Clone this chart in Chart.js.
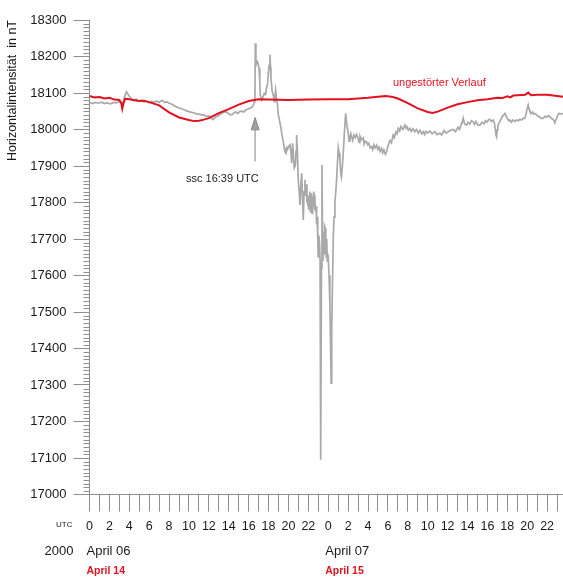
<!DOCTYPE html>
<html>
<head>
<meta charset="utf-8">
<script src="https://cdn.jsdelivr.net/npm/chart.js@4.4.1/dist/chart.umd.min.js"></script>
<style>
  html, body { margin: 0; padding: 0; background: #fff; }
  #wrap { width: 563px; height: 577px; position: relative; }
</style>
</head>
<body>
<div id="wrap"><canvas id="chart"></canvas></div>
<script>
// hours since 2000-04-06 00:00 UTC, horizontal intensity in nT
const quietHours = [0, 0.5, 1, 1.5, 2, 2.5, 3, 3.2, 3.3, 3.45, 3.6, 4, 4.5, 5, 5.5, 6, 7, 8, 9, 10, 10.5, 11, 11.5, 12, 13, 14, 15, 16, 17, 18, 20, 22, 24, 26, 27, 28, 29, 29.8, 30.5, 31, 32, 33, 34, 34.5, 35, 36, 37, 38, 39, 40, 41, 41.5, 42, 42.3, 42.6, 43, 43.8, 44.1, 44.4, 45, 46, 47, 47.6];
const quietValues = [18092, 18088, 18089, 18085, 18087, 18082, 18081, 18072, 18057, 18075, 18084, 18083, 18080, 18078, 18079, 18075, 18066, 18047, 18033, 18026, 18023, 18024, 18027, 18031, 18045, 18056, 18068, 18078, 18083, 18082, 18081, 18082, 18083, 18083, 18085, 18087, 18090, 18092, 18089, 18085, 18072, 18058, 18048, 18045, 18049, 18060, 18069, 18075, 18080, 18083, 18087, 18086, 18091, 18088, 18093, 18094, 18095, 18101, 18094, 18095, 18095, 18092, 18090];

const measuredHours = [0.00, 0.30, 0.60, 0.90, 1.20, 1.50, 1.80, 2.10, 2.40, 2.70, 3.00, 3.20, 3.30, 3.50, 3.72, 3.95, 4.17, 4.40, 4.70, 4.97, 5.25, 5.48, 5.75, 5.98, 6.25, 6.50, 6.75, 6.98, 7.29, 7.59, 7.80, 7.99, 8.25, 8.49, 8.75, 8.99, 9.25, 9.50, 9.75, 10.00, 10.25, 10.50, 10.75, 11.00, 11.25, 11.50, 11.75, 12.00, 12.20, 12.41, 12.55, 12.71, 12.91, 13.10, 13.32, 13.62, 13.80, 13.92, 14.10, 14.32, 14.50, 14.72, 14.90, 15.10, 15.30, 15.50, 15.73, 15.95, 16.15, 16.30, 16.45, 16.58, 16.63, 16.67, 16.73, 16.82, 16.90, 17.04, 17.12, 17.17, 17.31, 17.45, 17.57, 17.70, 17.81, 17.90, 17.97, 18.05, 18.14, 18.20, 18.24, 18.37, 18.47, 18.57, 18.64, 18.71, 18.80, 18.91, 18.97, 19.10, 19.25, 19.35, 19.48, 19.58, 19.65, 19.75, 19.85, 19.92, 20.05, 20.15, 20.25, 20.32, 20.42, 20.50, 20.58, 20.70, 20.76, 20.82, 20.90, 20.99, 21.08, 21.16, 21.25, 21.33, 21.41, 21.49, 21.57, 21.66, 21.71, 21.75, 21.81, 21.86, 21.90, 21.95, 21.99, 22.04, 22.08, 22.12, 22.16, 22.21, 22.25, 22.29, 22.33, 22.37, 22.41, 22.45, 22.49, 22.54, 22.58, 22.62, 22.66, 22.72, 22.77, 22.83, 22.89, 22.95, 22.99, 23.05, 23.12, 23.18, 23.24, 23.32, 23.37, 23.43, 23.47, 23.50, 23.53, 23.56, 23.59, 23.62, 23.66, 23.70, 23.74, 23.77, 23.80, 23.83, 23.87, 23.90, 23.94, 24.00, 24.08, 24.17, 24.23, 24.29, 24.35, 24.40, 24.50, 24.58, 24.67, 24.76, 24.84, 24.93, 25.01, 25.10, 25.18, 25.26, 25.33, 25.42, 25.51, 25.62, 25.75, 25.88, 26.01, 26.10, 26.18, 26.27, 26.35, 26.46, 26.58, 26.72, 26.85, 27.00, 27.10, 27.19, 27.35, 27.52, 27.61, 27.70, 27.86, 27.97, 28.09, 28.22, 28.36, 28.47, 28.59, 28.72, 28.86, 28.98, 29.10, 29.22, 29.37, 29.48, 29.60, 29.75, 29.87, 30.00, 30.10, 30.20, 30.35, 30.53, 30.65, 30.80, 30.92, 31.04, 31.18, 31.31, 31.50, 31.71, 31.81, 31.91, 32.05, 32.21, 32.35, 32.51, 32.70, 32.88, 33.05, 33.22, 33.40, 33.55, 33.70, 33.82, 34.00, 34.22, 34.45, 34.72, 34.95, 35.23, 35.40, 35.63, 35.85, 36.06, 36.30, 36.56, 36.80, 37.04, 37.20, 37.34, 37.47, 37.57, 37.70, 37.91, 38.05, 38.24, 38.40, 38.57, 38.70, 38.84, 39.05, 39.25, 39.45, 39.65, 39.80, 39.95, 40.10, 40.25, 40.40, 40.58, 40.70, 40.80, 40.86, 40.92, 41.00, 41.06, 41.26, 41.40, 41.51, 41.65, 41.76, 41.90, 42.01, 42.15, 42.26, 42.40, 42.56, 42.75, 42.93, 43.10, 43.27, 43.45, 43.60, 43.75, 43.87, 43.98, 44.10, 44.20, 44.27, 44.43, 44.55, 44.66, 44.80, 44.94, 45.10, 45.28, 45.45, 45.61, 45.80, 45.98, 46.12, 46.28, 46.45, 46.58, 46.70, 46.78, 46.95, 47.09, 47.20, 47.29, 47.45, 47.59];
const measuredValues = [18074, 18071, 18074, 18072, 18075, 18071, 18073, 18070, 18074, 18073, 18077, 18072, 18068, 18088, 18103, 18093, 18085, 18081, 18083, 18078, 18080, 18075, 18077, 18073, 18077, 18075, 18078, 18074, 18080, 18074, 18076, 18072, 18070, 18066, 18062, 18059, 18057, 18054, 18051, 18049, 18047, 18046, 18043, 18042, 18040, 18040, 18036, 18037, 18032, 18027, 18031, 18035, 18037, 18041, 18045, 18049, 18047, 18045, 18041, 18041, 18045, 18048, 18044, 18049, 18050, 18048, 18054, 18056, 18059, 18060, 18066, 18076, 18080, 18236, 18177, 18188, 18185, 18168, 18130, 18095, 18081, 18090, 18099, 18096, 18117, 18125, 18150, 18175, 18205, 18170, 18140, 18104, 18095, 18076, 18090, 18108, 18085, 18067, 18042, 18025, 18003, 17985, 17967, 17950, 17939, 17935, 17950, 17946, 17955, 17958, 17940, 17908, 17962, 17930, 17895, 17902, 17940, 17985, 17940, 17860, 17830, 17793, 17850, 17880, 17810, 17752, 17830, 17862, 17820, 17835, 17850, 17800, 17820, 17790, 17815, 17780, 17800, 17830, 17812, 17775, 17795, 17825, 17803, 17770, 17815, 17785, 17798, 17830, 17812, 17780, 17821, 17775, 17790, 17740, 17761, 17700, 17651, 17710, 17690, 17640, 17095, 17620, 17903, 17680, 17640, 17670, 17710, 17720, 17660, 17690, 17735, 17730, 17680, 17716, 17650, 17680, 17700, 17640, 17660, 17651, 17600, 17515, 17420, 17305, 17450, 17533, 17697, 17760, 17800, 17830, 17862, 17910, 17950, 17935, 17917, 17880, 17870, 17900, 17935, 17990, 18044, 18010, 17990, 17968, 17975, 17988, 17980, 17970, 17985, 17978, 17986, 17975, 17965, 17982, 17972, 17977, 17960, 17968, 17966, 17958, 17962, 17950, 17953, 17945, 17958, 17950, 17957, 17946, 17952, 17940, 17948, 17936, 17944, 17932, 17939, 17955, 17962, 17970, 17964, 17985, 17978, 17993, 17988, 18003, 17996, 18008, 18000, 18012, 18004, 18008, 17998, 18003, 17995, 18002, 17994, 18000, 17990, 17998, 17988, 17994, 17986, 17995, 17990, 17996, 17988, 17994, 17986, 17990, 17985, 17997, 17990, 17994, 17998, 18000, 17994, 18006, 18000, 18012, 18020, 18031, 18015, 18012, 18020, 18015, 18024, 18021, 18014, 18022, 18012, 18012, 18020, 18016, 18024, 18020, 18026, 18028, 18022, 18026, 18018, 18000, 17985, 17980, 18000, 18012, 18022, 18030, 18036, 18040, 18044, 18035, 18030, 18024, 18026, 18020, 18026, 18022, 18026, 18024, 18028, 18026, 18031, 18030, 18040, 18055, 18067, 18055, 18050, 18044, 18048, 18042, 18044, 18040, 18036, 18034, 18030, 18031, 18036, 18034, 18038, 18035, 18030, 18028, 18024, 18021, 18030, 18040, 18044, 18044, 18042, 18045];

const hourMax = 47.6;
const nTMin = 17000;
const nTMax = 18300;
const sscHour = 16.65;
const dayStarts = [0, 24];
const dayLabels = ["April 06", "April 07"];
const dayLabelsRed = ["April 14", "April 15"];

const FONT = "'Liberation Sans', Arial, Helvetica, sans-serif";
const RED = "#e2111f";
const GREY = "#a9a9a9";
const AXIS = "#8f8f8f";

function toPoints(xs, ys) {
  return xs.map((x, i) => ({ x, y: ys[i] }));
}

const decorations = {
  id: "decorations",
  afterDraw(chart) {
    const { ctx, chartArea, scales } = chart;
    const xs = scales.x;
    const ys = scales.y;
    ctx.save();

    // minor ticks every 10 nT
    ctx.strokeStyle = AXIS;
    ctx.lineWidth = 1;
    ctx.beginPath();
    for (let v = nTMin + 10; v < nTMax; v += 10) {
      if (v % 100 === 0) continue;
      const y = Math.round(ys.getPixelForValue(v)) + 0.5;
      ctx.moveTo(chartArea.left - 6, y);
      ctx.lineTo(chartArea.left, y);
    }
    ctx.stroke();

    // ssc arrow
    const ax = xs.getPixelForValue(sscHour);
    const tip = ys.getPixelForValue(18033);
    const base = ys.getPixelForValue(17999);
    const tail = ys.getPixelForValue(17912);
    ctx.strokeStyle = "#9a9a9a";
    ctx.lineWidth = 1.2;
    ctx.beginPath();
    ctx.moveTo(ax, base);
    ctx.lineTo(ax, tail);
    ctx.stroke();
    ctx.fillStyle = "#a0a0a0";
    ctx.strokeStyle = "#7a7a7a";
    ctx.lineWidth = 0.8;
    ctx.beginPath();
    ctx.moveTo(ax, tip);
    ctx.lineTo(ax - 4, base);
    ctx.lineTo(ax + 4, base);
    ctx.closePath();
    ctx.fill();
    ctx.stroke();

    ctx.textBaseline = "middle";
    ctx.fillStyle = "#1a1a1a";
    ctx.font = "11px " + FONT;
    ctx.textAlign = "left";
    ctx.fillText("ssc 16:39 UTC", xs.getPixelForValue(9.7), ys.getPixelForValue(17865));

    ctx.fillStyle = RED;
    ctx.fillText("ungestörter Verlauf", xs.getPixelForValue(30.5), ys.getPixelForValue(18128));

    // bottom captions
    const rowTicks = 525;
    const rowDay = 551;
    const rowRed = 571;
    ctx.fillStyle = "#1a1a1a";
    ctx.font = "8px " + FONT;
    ctx.textAlign = "right";
    ctx.fillText("UTC", chartArea.left - 17, rowTicks);
    ctx.font = "13px " + FONT;
    ctx.fillText("2000", chartArea.left - 16, rowDay);
    ctx.textAlign = "left";
    dayStarts.forEach((h, i) => {
      const x = xs.getPixelForValue(h) - 3;
      ctx.fillStyle = "#1a1a1a";
      ctx.font = "13px " + FONT;
      ctx.fillText(dayLabels[i], x, rowDay);
      ctx.fillStyle = RED;
      ctx.font = "bold 10.5px " + FONT;
      ctx.fillText(dayLabelsRed[i], x, rowRed);
    });
    ctx.restore();
  },
};

new Chart(document.getElementById("chart"), {
  type: "line",
  data: {
    datasets: [
      {
        label: "ungestörter Verlauf",
        data: toPoints(quietHours, quietValues),
        borderColor: RED,
        borderWidth: 2,
        pointRadius: 0,
        tension: 0,
      },
      {
        label: "gemessen",
        data: toPoints(measuredHours, measuredValues),
        borderColor: GREY,
        borderWidth: 1.7,
        pointRadius: 0,
        tension: 0,
      },
    ],
  },
  options: {
    responsive: true,
    maintainAspectRatio: false,
    animation: false,
    layout: { padding: { top: 20, right: 0, bottom: 0, left: 0 } },
    plugins: { legend: { display: false }, tooltip: { enabled: false } },
    scales: {
      x: {
        type: "linear",
        min: 0,
        max: hourMax,
        border: { color: AXIS },
        grid: { drawOnChartArea: false, tickLength: 17, color: AXIS },
        ticks: {
          stepSize: 1,
          autoSkip: false,
          maxRotation: 0,
          includeBounds: false,
          padding: 8,
          color: "#1a1a1a",
          font: { family: FONT, size: 12.5 },
          callback: (v) => (Number.isInteger(v) && v % 2 === 0 ? String(v % 24) : ""),
        },
        afterFit: (s) => {
          s.height = 82.5;
          s.paddingRight = 0;
        },
      },
      y: {
        min: nTMin,
        max: nTMax,
        border: { color: AXIS },
        grid: { drawOnChartArea: false, tickLength: 16, color: AXIS },
        ticks: {
          stepSize: 100,
          padding: 7,
          color: "#1a1a1a",
          font: { family: FONT, size: 13 },
          callback: (v) => String(v),
        },
        title: {
          display: true,
          text: "Horizontalintensität  in nT",
          align: "end",
          color: "#1a1a1a",
          font: { family: FONT, size: 12.5 },
          padding: { top: 5, bottom: 0 },
        },
        afterFit: (s) => { s.width = 89.5; },
      },
    },
  },
  plugins: [decorations],
});
</script>
</body>
</html>
